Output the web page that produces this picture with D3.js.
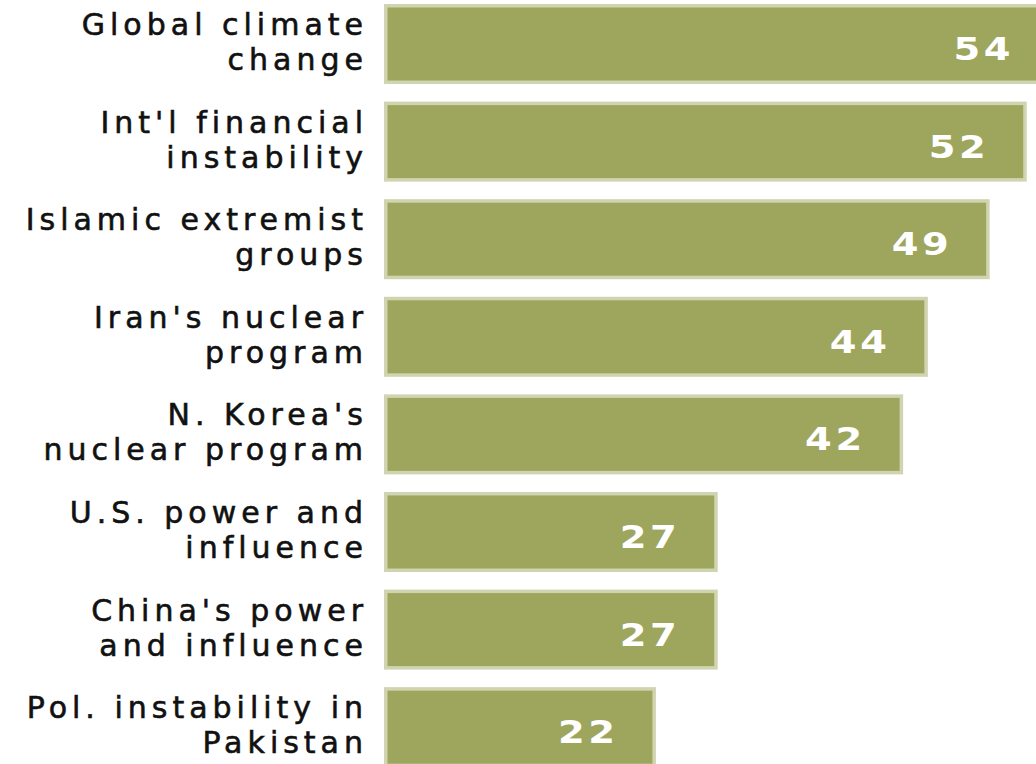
<!DOCTYPE html>
<html>
<head>
<meta charset="utf-8">
<script src="https://cdn.jsdelivr.net/npm/d3@7"></script>
<style>
  body { margin: 0; background: #fff; }
  svg { display: block; }
</style>
</head>
<body>
<div id="chart"></div>
<script>
const width = 1036, height = 764;

// data
const categories = [
    ["Global climate", "change"],
    ["Int'l financial", "instability"],
    ["Islamic extremist", "groups"],
    ["Iran's nuclear", "program"],
    ["N. Korea's", "nuclear program"],
    ["U.S. power and", "influence"],
    ["China's power", "and influence"],
    ["Pol. instability in", "Pakistan"]
];
const values = [54, 52, 49, 44, 42, 27, 27, 22];

const rows = categories.map((c, i) => ({ key: c.join(" "), lines: c, value: values[i] }));

const svg = d3.select("#chart")
    .append("svg")
    .attr("width", width)
    .attr("height", height);

// x: 0 at the bar base, about 12.36px per point
var x = d3.scaleLinear()
    .domain([0, 54])
    .range([384, 384 + 54 * 12.36]);

var y = d3.scaleBand()
    .domain(rows.map(d => d.key))
    .range([4, 767.2])
    .paddingInner(0.18)
    .paddingOuter(0);

const barFill = "#9ea65e", barEdge = "#d0d4b0";
const sw = 3.5;

svg.selectAll("rect.bar")
    .data(rows)
    .join("rect")
    .attr("class", "bar")
    .attr("x", x(0) + sw / 2)
    .attr("y", d => y(d.key) + sw / 2)
    .attr("width", d => x(d.value) - x(0) - sw)
    .attr("height", y.bandwidth() - sw)
    .attr("fill", barFill)
    .attr("stroke", barEdge)
    .attr("stroke-width", sw);

// value labels inside the bar end (digits are wide in the original, so stretch a bit)
const vls = 3;
svg.selectAll("text.val")
    .data(rows)
    .join("text")
    .attr("class", "val")
    .attr("transform", d => "translate(" + (x(d.value) - 41) + "," + (y(d.key) + y.bandwidth() / 2 + 16) + ") scale(1.2,1)")
    .attr("x", vls)
    .attr("y", 0)
    .attr("text-anchor", "end")
    .style("font-family", "'DejaVu Sans', Verdana, sans-serif")
    .style("font-weight", "bold")
    .style("font-size", "32px")
    .style("letter-spacing", vls + "px")
    .attr("fill", "#fff")
    .text(d => d.value);

// category labels, two lines each, right aligned
const ls = 5;
const labels = svg.selectAll("text.cat")
    .data(rows)
    .join("text")
    .attr("class", "cat")
    .attr("text-anchor", "end")
    .style("font-family", "'DejaVu Sans', Verdana, sans-serif")
    .style("font-size", "30px")
    .style("letter-spacing", ls + "px")
    .attr("fill", "#111")
    .attr("stroke", "#111")
    .attr("stroke-width", 0.6);

labels.selectAll("tspan")
    .data(d => d.lines.map((t, j) => ({ t, j, row: d })))
    .join("tspan")
    .attr("x", 363 + ls)
    .attr("y", d => y(d.row.key) + y.bandwidth() / 2 - 9 + d.j * 35)
    .text(d => d.t);
</script>
</body>
</html>
